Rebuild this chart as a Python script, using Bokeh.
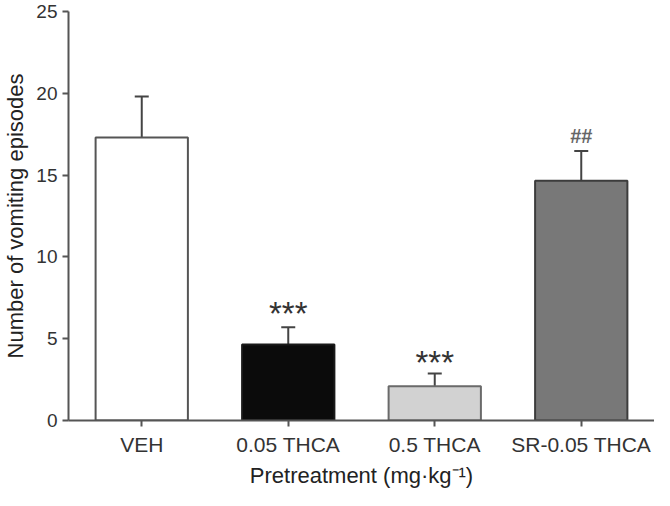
from bokeh.plotting import figure
from bokeh.models import Range1d, FactorRange, FixedTicker, Whisker, TeeHead, ColumnDataSource
from bokeh.core.properties import value
from bokeh.embed import file_html
from bokeh.resources import INLINE

# ---- data ----
categories = ["VEH", "0.05 THCA", "0.5 THCA", "SR-0.05 THCA"]
means = [17.3, 4.65, 2.1, 14.65]
upper = [19.8, 5.7, 2.88, 16.47]
fills = ["#ffffff", "#0b0b0b", "#d2d2d2", "#787878"]
outlines = ["#555555", "#1a1a1a", "#6a6a6a", "#3c3c3c"]
star_cats = ["0.05 THCA", "0.5 THCA"]
star_y = [7.5, 4.5]
star_text = ["***", "***"]
hash_cats = ["SR-0.05 THCA"]
hash_y = [17.4]
hash_text = ["##"]
y_ticks = [0, 5, 10, 15, 20, 25]

FONT = value("Liberation Sans")

p = figure(
    width=654, height=490,
    x_range=FactorRange(factors=categories, range_padding=0),
    y_range=Range1d(0, 25),
    output_backend="svg", toolbar_location=None,
    min_border_left=68, min_border_right=0,
    min_border_top=11, min_border_bottom=68,
)
p.outline_line_color = None
p.xgrid.grid_line_color = None
p.ygrid.grid_line_color = None
p.background_fill_color = "white"
p.border_fill_color = "white"

src = ColumnDataSource(dict(x=categories, top=means, upper=upper,
                            fill=fills, line=outlines))
p.vbar(x="x", top="top", bottom=0, width=0.63, source=src,
       fill_color="fill", line_color="line", line_width=2)

wh = Whisker(base="x", upper="upper", lower="top", source=src,
             line_color="#444444", line_width=2,
             upper_head=TeeHead(size=14, line_color="#444444", line_width=2),
             lower_head=None)
p.add_layout(wh)

p.text(x=star_cats, y=star_y, text=star_text, text_font=FONT,
       text_font_size="33px", text_align="center",
       text_baseline="alphabetic", y_offset=16, text_color="#333333")
p.text(x=hash_cats, y=hash_y, text=hash_text, text_font=FONT,
       text_font_size="20px", text_font_style="bold", text_align="center",
       text_baseline="middle", text_color="#666666")

# axes
for ax in (p.xaxis[0], p.yaxis[0]):
    ax.axis_line_color = "#555555"
    ax.axis_line_width = 2
    ax.major_tick_line_color = "#555555"
    ax.major_tick_line_width = 2
    ax.major_tick_in = 0
    ax.major_tick_out = 6
    ax.minor_tick_line_color = None
    ax.major_label_text_font = "Liberation Sans"
    ax.major_label_text_color = "#333333"
    ax.axis_label_text_font = "Liberation Sans"
    ax.axis_label_text_font_style = "normal"
    ax.axis_label_text_color = "#222222"

p.yaxis.ticker = FixedTicker(ticks=y_ticks)
p.yaxis.major_label_text_font_size = "19px"
p.yaxis.major_label_standoff = 5
p.yaxis.axis_label = "Number of vomiting episodes"
p.yaxis.axis_label_text_font_size = "22px"
p.yaxis.axis_label_standoff = 5

p.xaxis.major_label_text_font_size = "21px"
p.xaxis.major_label_standoff = 6
p.xaxis.axis_label = "Pretreatment (mg\u00b7kg\u207b\u00b9)"
p.xaxis.axis_label_text_font_size = "22px"
p.xaxis.axis_label_standoff = 4

open("out.html", "w").write(file_html(p, INLINE))
